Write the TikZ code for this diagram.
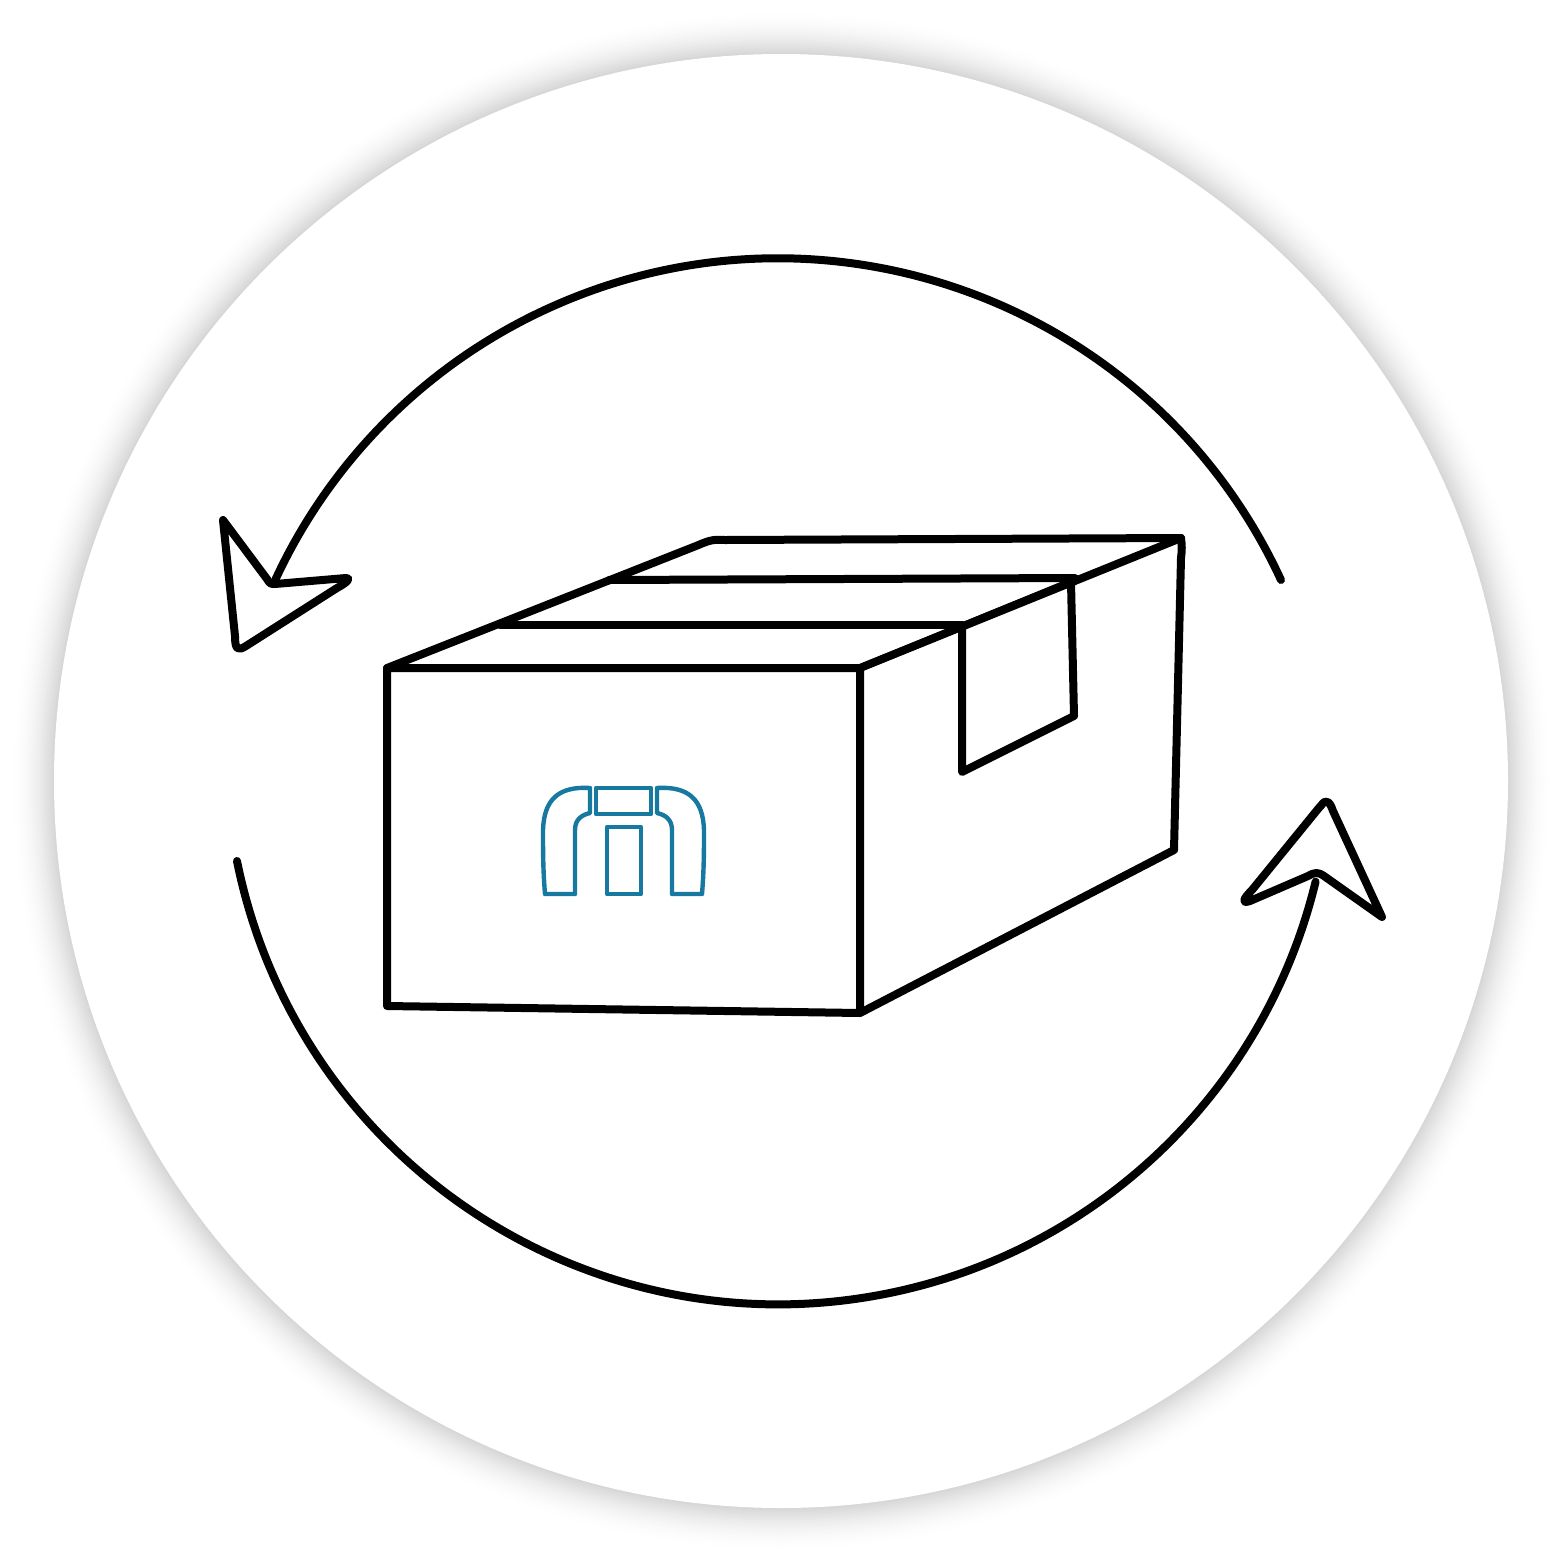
\documentclass[tikz,border=0pt]{standalone}
\definecolor{iconblue}{HTML}{17799F}
\tikzset{
  ink/.style={draw=black,line width=8pt,line cap=round,line join=round},
  icon/.style={draw=iconblue,line width=4.4pt,line cap=round,line join=round}
}
\begin{document}
\begin{tikzpicture}[x=1pt,y=-1pt]
\useasboundingbox (0,0) rectangle (1564,1564);
\fill[white] (0,0) rectangle (1564,1564);
% soft shadow round the disc
\foreach \d in {46,44,...,0}{
  \pgfmathsetmacro{\g}{17*(1-\d/46)*(1-\d/46)}
  \fill[black!\g!white] (781,781) circle[radius=727+\d];
}
\fill[white] (781,781) circle[radius=727];
% circular arrows
\draw[ink] (1281,580) arc[start angle=-24.8,end angle=-155.2,radius=554];
\draw[ink] (237,861) arc[start angle=168.6,end angle=13.6,radius=552.5];
% arrow heads
\draw[ink] (223,520) -- (267,579) .. controls (270,584) and (271,584) .. (275,584)
  -- (346,578) .. controls (351,578) and (348,582) .. (337,588)
  -- (246,646) .. controls (238,651) and (235,650) .. (235,636) -- cycle;
\draw[ink] (1327,802) .. controls (1324,800) and (1322,805) .. (1318,809)
  -- (1252,890) .. controls (1243,899) and (1241,904) .. (1250,901)
  -- (1308,876) .. controls (1315,872) and (1318,872) .. (1324,876)
  -- (1382,917) -- (1333,811) .. controls (1331,805) and (1329,802) .. (1327,802) -- cycle;
% box
\draw[ink] (387,668) -- (860,668) -- (860,1013) -- (387,1006) -- cycle;
\draw[ink] (860,668) -- (1181,538);
\draw[ink] (1181,538) .. controls (1182,545) and (1182,550) .. (1181,558) -- (1174,850) -- (860,1013);
\draw[ink] (387,668) -- (696,546) .. controls (708,541) and (712,539) .. (725,540) -- (1181,538);
\draw[ink] (609,580) -- (1075,578);
\draw[ink] (500,625) -- (962,625);
\draw[ink] (962,625) -- (962,772) -- (1074,716) -- (1071,582);
\fill (860,664) -- (1075,576) -- (1075,584) -- (860,672) -- cycle;
% carton mark
\draw[icon] (590,788) -- (590,813) .. controls (581,815) and (575,820) .. (575,830)
  -- (575,894) -- (545,894) .. controls (543,870) and (543,850) .. (543,830)
  .. controls (544,800) and (558,786) .. (590,788) -- cycle;
\draw[icon] (657,788) -- (657,813) .. controls (666,815) and (672,820) .. (672,830)
  -- (672,894) -- (702,894) .. controls (704,870) and (704,850) .. (704,830)
  .. controls (703,800) and (689,786) .. (657,788) -- cycle;
\draw[icon] (596,788) rectangle (651,814);
\draw[icon] (607,827) rectangle (641,894);
\end{tikzpicture}
\end{document}
